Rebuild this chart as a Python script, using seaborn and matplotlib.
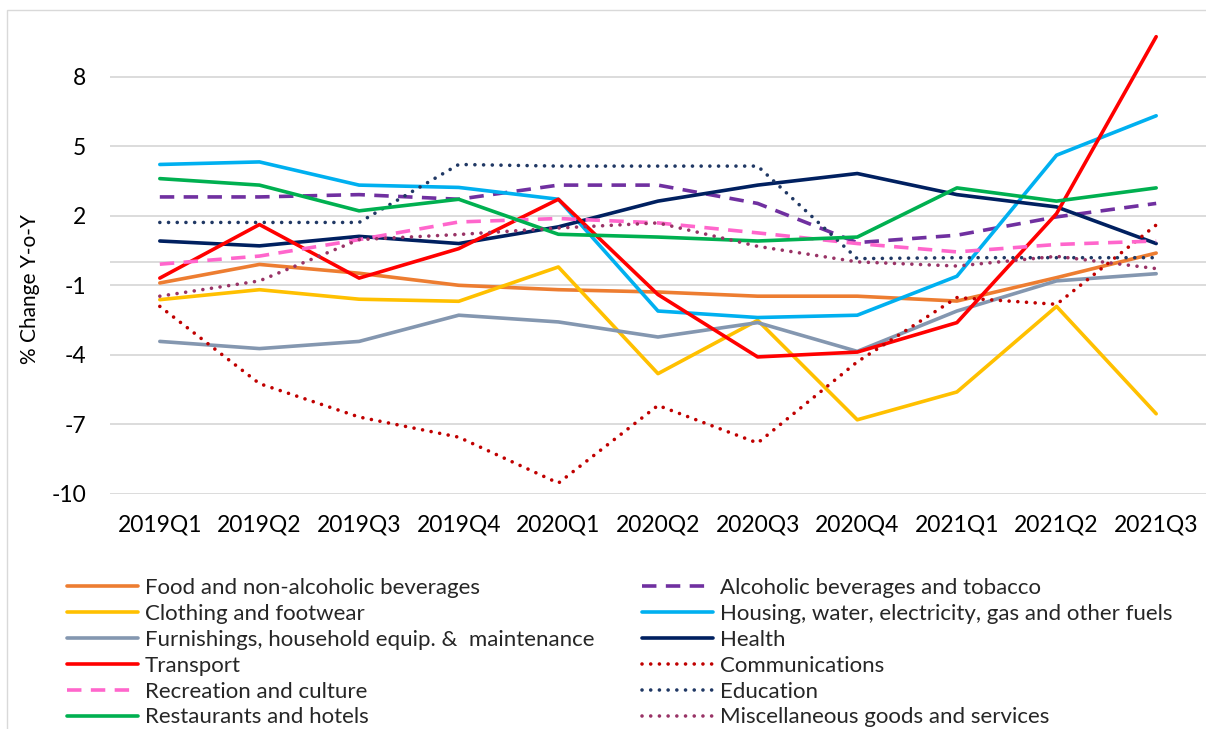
import numpy as np
import pandas as pd
import matplotlib
matplotlib.use("Agg")
import matplotlib.pyplot as plt
from matplotlib.patches import Rectangle
import seaborn as sns

# Quarterly year-on-year % change by CPI division
quarters = ["2019Q1", "2019Q2", "2019Q3", "2019Q4", "2020Q1", "2020Q2",
            "2020Q3", "2020Q4", "2021Q1", "2021Q2", "2021Q3"]

food = [-0.9, -0.1, -0.48, -1.0, -1.19, -1.29, -1.47, -1.47, -1.68, -0.67, 0.39]
alcohol = [2.81, 2.81, 2.91, 2.71, 3.32, 3.32, 2.53, 0.84, 1.16, 1.95, 2.53]
clothing = [-1.62, -1.19, -1.6, -1.69, -0.21, -4.81, -2.51, -6.8, -5.6, -1.91, -6.54]
housing = [4.21, 4.32, 3.32, 3.22, 2.71, -2.11, -2.39, -2.29, -0.61, 4.61, 6.31]
furnishings = [-3.42, -3.73, -3.42, -2.29, -2.58, -3.23, -2.61, -3.85, -2.11, -0.81, -0.5]
health = [0.91, 0.7, 1.11, 0.8, 1.52, 2.63, 3.32, 3.82, 2.91, 2.38, 0.8]
transport = [-0.69, 1.62, -0.69, 0.58, 2.71, -1.4, -4.09, -3.88, -2.61, 2.09, 9.72]
communications = [-1.91, -5.24, -6.68, -7.55, -9.53, -6.18, -7.8, -4.3, -1.53, -1.82, 1.6]
recreation = [-0.09, 0.26, 0.97, 1.73, 1.88, 1.69, 1.26, 0.8, 0.44, 0.76, 0.91]
education = [1.71, 1.71, 1.71, 4.21, 4.14, 4.14, 4.14, 0.15, 0.19, 0.19, 0.19]
restaurants = [3.6, 3.32, 2.21, 2.71, 1.2, 1.08, 0.91, 1.08, 3.2, 2.63, 3.2]
miscellaneous = [-1.47, -0.81, 0.97, 1.19, 1.47, 1.69, 0.68, 0.01, -0.17, 0.25, -0.28]

y_ticks = [-10, -7, -4, -1, 2, 5, 8]

W, H = 1206, 729
sns.set_theme(style="white")
plt.rcParams["font.family"] = ["Lato", "DejaVu Sans"]

fig = plt.figure(figsize=(W / 100, H / 100), dpi=100)
ax = fig.add_axes([110 / W, (H - 494) / H, (W - 110) / W, (494 - 30.2) / H])

dash = (0, (4.0, 2.6))
dot = (0, (0.01, 2.4))

# name, values, colour, linestyle, linewidth
series = [
    ("Food and non-alcoholic beverages", food, "#ED7D31", "-", 2.6),
    ("Alcoholic beverages and tobacco", alcohol, "#7030A0", dash, 2.6),
    ("Clothing and footwear", clothing, "#FFC000", "-", 2.6),
    ("Housing, water, electricity, gas and other fuels", housing, "#00B0F0", "-", 2.6),
    ("Furnishings, household equip. &  maintenance", furnishings, "#8497B0", "-", 2.6),
    ("Health", health, "#002060", "-", 2.6),
    ("Transport", transport, "#FF0000", "-", 2.6),
    ("Communications", communications, "#C00000", dot, 2.6),
    ("Recreation and culture", recreation, "#FF66CC", dash, 2.6),
    ("Education", education, "#203864", dot, 2.6),
    ("Restaurants and hotels", restaurants, "#00B050", "-", 2.6),
    ("Miscellaneous goods and services", miscellaneous, "#993366", dot, 2.6),
]

grid_color = "#D9D9D9"
for v in y_ticks:
    ax.axhline(v, color=grid_color, lw=1.3, zorder=0)
ax.axhline(0, color=grid_color, lw=1.3, zorder=0)

x = np.arange(len(quarters))
handles = {}
for name, vals, color, ls, lw in series:
    df = pd.DataFrame({"quarter": x, "value": vals})
    sns.lineplot(data=df, x="quarter", y="value", ax=ax, color=color,
                 linestyle=ls, linewidth=lw, dash_capstyle="round" if ls is dot else "butt",
                 solid_capstyle="round", label=name, legend=False)
    handles[name] = ax.get_lines()[-1]

ax.set_xlim(-0.5, 10.5)
ax.set_ylim(-10, 10)
ax.set_xticks(x)
ax.set_xticklabels(quarters)
ax.set_yticks(y_ticks)
ax.set_yticklabels([str(v) for v in y_ticks])
ax.tick_params(axis="x", length=0, pad=15, labelsize=16.5, colors="black")
ax.tick_params(axis="y", length=0, pad=17, labelsize=16.5, colors="black")
ax.set_xlabel("")
ax.set_ylabel("")
for s in ax.spines.values():
    s.set_visible(False)
ax.patch.set_alpha(0)

fig.text(30 / W, 1 - 289 / H, "% Change Y-o-Y", rotation=90, ha="center",
         va="center", fontsize=15, color="black")

# outer chart frame
fig.patches.append(Rectangle((7 / W, -0.1), 1.2, 1 - 10 / H + 0.1,
                             transform=fig.transFigure, fill=False,
                             edgecolor=grid_color, lw=1.0))

names = [s[0] for s in series]
left_col = names[0::2]
right_col = names[1::2]
leg_kw = dict(frameon=False, fontsize=16, handlelength=3.2, handletextpad=0.3,
              labelspacing=0.265, borderaxespad=0, borderpad=0, loc="upper left")
leg1 = fig.legend([handles[n] for n in left_col], left_col,
                  bbox_to_anchor=(67 / W, 1 - 578 / H), **leg_kw)
leg2 = fig.legend([handles[n] for n in right_col], right_col,
                  bbox_to_anchor=(642 / W, 1 - 578 / H), **leg_kw)

fig.savefig("out.png", dpi=100)
